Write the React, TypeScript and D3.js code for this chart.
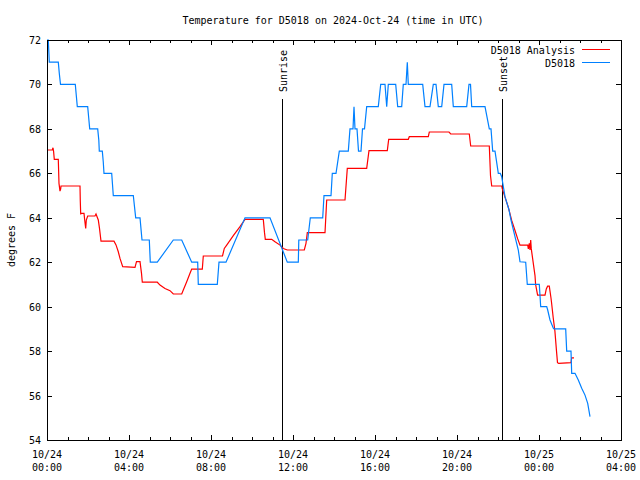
import React from "react";
import * as d3 from "d3";

// Decimal hours since 2024-10-24 00:00 UTC
const obsHours = [
  0.0, 0.063, 0.088, 0.112, 0.551, 0.6, 0.659, 1.38, 1.429, 1.478, 1.985, 2.034, 2.083, 2.473, 2.527, 2.551,
  2.698, 2.746, 2.78, 3.156, 3.195, 3.234, 4.21, 4.268, 4.327, 4.537, 4.585, 4.634, 4.99, 5.039, 5.38, 6.161,
  6.571, 7.059, 7.351, 7.38, 8.307, 8.39, 8.732, 9.659, 10.878, 11.722, 12.259, 12.283, 12.717, 12.844, 13.449, 13.512,
  13.854, 13.917, 14.098, 14.259, 14.698, 14.78, 14.927, 14.976, 15.024, 15.122, 15.195, 15.317, 15.39, 15.488, 15.595, 16.161,
  16.278, 16.488, 16.571, 16.649, 17.01, 17.107, 17.302, 17.38, 17.512, 17.576, 17.624, 18.327, 18.439, 18.683, 18.844, 18.976,
  19.088, 19.254, 19.366, 19.741, 19.82, 20.473, 20.585, 20.659, 20.717, 21.366, 21.576, 21.659, 21.741, 21.854, 22.015, 22.112,
  22.18, 22.341, 22.537, 22.634, 22.829, 22.99, 23.073, 23.351, 23.429, 24.015, 24.083, 24.376, 24.424, 24.537, 24.698, 24.732,
  25.302, 25.351, 25.561, 25.595, 25.756, 25.917, 26.083, 26.244, 26.376, 26.488,
];
const obsTemps = [
  72, 72, 71.5, 71, 71, 70.5, 70, 70, 69.5, 69, 69, 68.5, 68, 68, 67.5, 67,
  67, 66.5, 66, 66, 65.5, 65, 65, 64.5, 64, 64, 63.5, 63, 63, 62, 62, 63,
  63, 62, 62, 61, 61, 62, 62, 64, 64, 62, 62, 63, 63, 64, 64, 65,
  65, 66, 66, 67, 67, 68, 68, 69, 68, 68, 67, 67, 68, 68, 69, 69,
  70, 70, 69, 70, 70, 69, 69, 70, 70, 71, 70, 70, 69, 69, 70, 70,
  69, 69, 70, 70, 69, 69, 70, 70, 69, 69, 68, 68, 67, 67, 66, 66,
  65.85, 64.95, 64.35, 63.9, 63.15, 62.55, 62.02, 62, 61, 61, 60, 60, 59.85, 59.4, 59.03, 59,
  59, 58, 58, 57, 57, 56.7, 56.33, 56.02, 55.65, 55.05,
];

const anaHours = [
  0.0, 0.259, 0.293, 0.32, 0.356, 0.551, 0.585, 0.634, 0.668, 0.683, 1.61, 1.624, 1.644, 1.659, 1.805, 1.839,
  1.888, 1.917, 1.985, 2.341, 2.39, 2.502, 2.561, 2.634, 3.268, 3.366, 3.478, 3.561, 3.693, 4.293, 4.366, 4.537,
  4.61, 4.649, 5.38, 5.512, 5.756, 6.0, 6.161, 6.571, 6.649, 6.815, 6.976, 7.059, 7.576, 7.624, 8.561, 8.649,
  8.766, 9.088, 9.415, 9.659, 10.551, 10.61, 10.649, 10.961, 11.122, 11.366, 11.527, 11.722, 12.551, 12.634, 12.698, 13.561,
  13.644, 14.537, 14.649, 15.595, 15.707, 16.6, 16.668, 17.624, 17.673, 18.6, 18.649, 19.61, 19.693, 20.6, 20.668, 21.576,
  21.634, 21.693, 22.18, 22.21, 22.341, 22.502, 22.668, 22.829, 22.961, 23.073, 23.449, 23.48, 23.527, 23.561, 23.595, 23.624,
  23.805, 23.834, 23.932, 24.293, 24.356, 24.42, 24.502, 24.583, 24.61, 24.693, 24.776, 24.854, 24.902, 24.961, 25.561, 25.595,
  25.707,
];
const anaTemps = [
  67.05, 67.05, 67.15, 67.0, 66.63, 66.63, 65.55, 65.2, 65.3, 65.43, 65.43, 64.75, 64.15, 64.2, 64.2, 63.9,
  63.52, 63.9, 64.08, 64.08, 64.17, 63.9, 63.52, 62.95, 62.95, 62.78, 62.47, 62.17, 61.8, 61.77, 62.03, 62.03,
  61.5, 61.1, 61.1, 60.97, 60.82, 60.72, 60.57, 60.57, 60.75, 61.12, 61.5, 61.69, 61.69, 62.28, 62.28, 62.62,
  62.77, 63.2, 63.6, 63.93, 63.93, 63.33, 63.03, 63.03, 62.92, 62.77, 62.62, 62.55, 62.55, 62.85, 63.33, 63.33,
  64.8, 64.8, 66.22, 66.22, 67.02, 67.02, 67.53, 67.53, 67.65, 67.65, 67.86, 67.86, 67.77, 67.77, 67.23, 67.23,
  65.9, 65.43, 65.43, 65.3, 64.93, 64.48, 63.88, 63.43, 63.05, 62.77, 62.77, 62.6, 62.85, 62.55, 63.0, 62.6,
  61.4, 61.0, 60.52, 60.52, 60.8, 60.92, 60.92, 60.4, 60.2, 59.5, 58.9, 58.0, 57.48, 57.45, 57.48, 57.7,
  57.7,
];

const yTicks = [54, 56, 58, 60, 62, 64, 66, 68, 70, 72];
const xMajorLabels = [
  ["10/24", "00:00"], ["10/24", "04:00"], ["10/24", "08:00"], ["10/24", "12:00"],
  ["10/24", "16:00"], ["10/24", "20:00"], ["10/25", "00:00"], ["10/25", "04:00"],
];
const sunEvents = [
  { label: "Sunrise", hour: 11.463 },
  { label: "Sunset", hour: 22.195 },
];
const seriesNames = ["D5018 Analysis", "D5018"];
const seriesColors = ["#ff0000", "#0080ff"];
const title = "Temperature for D5018 on 2024-Oct-24 (time in UTC)";
const yLabel = "degrees F";

const start = Date.UTC(2024, 9, 24, 0, 0);
const toDate = (h: number) => new Date(start + h * 3600 * 1000);

export default function App() {
  const W = 640, H = 480;
  const L = 47, R = 621, T = 40, B = 440;
  const x = d3.scaleUtc().domain([toDate(0), toDate(28)]).range([L, R]);
  const y = d3.scaleLinear().domain([54, 72]).range([B, T]);
  const font = "'DejaVu Sans Mono', monospace";
  const fs = 10;

  const line = d3
    .line<[number, number]>()
    .x((d) => x(toDate(d[0])))
    .y((d) => y(d[1]));

  const anaData: [number, number][] = anaHours.map((h, i) => [h, anaTemps[i]]);
  const obsData: [number, number][] = obsHours.map((h, i) => [h, obsTemps[i]]);

  const minorHours = d3.range(0, 29, 1);
  const majorHours = d3.range(0, 29, 4);

  return (
    <svg width={W} height={H} style={{ position: "absolute", left: 0, top: 0, background: "#fff" }} fontFamily={font} fontSize={fs}>
      <rect x={0} y={0} width={W} height={H} fill="#fff" />
      <text x={333} y={24} textAnchor="middle">{title}</text>
      <text transform={`translate(15,240) rotate(-90)`} textAnchor="middle">{yLabel}</text>

      <g shapeRendering="crispEdges" stroke="#000" strokeWidth={1}>
        {yTicks.map((t) => (
          <g key={"y" + t}>
            <line x1={L} x2={L + 5} y1={Math.round(y(t)) + 0.5} y2={Math.round(y(t)) + 0.5} />
            <line x1={R} x2={R - 5} y1={Math.round(y(t)) + 0.5} y2={Math.round(y(t)) + 0.5} />
          </g>
        ))}
        {minorHours.map((h) => {
          const major = h % 4 === 0;
          const len = major ? 5 : 3;
          const px = Math.round(x(toDate(h))) + 0.5;
          return (
            <g key={"x" + h}>
              <line x1={px} x2={px} y1={B} y2={B - len} />
              <line x1={px} x2={px} y1={T} y2={T + len} />
            </g>
          );
        })}
      </g>

      {yTicks.map((t) => (
        <text key={"yl" + t} x={41} y={y(t) + 4} textAnchor="end">{t}</text>
      ))}
      {majorHours.map((h, i) => (
        <g key={"xl" + h}>
          <text x={x(toDate(h))} y={458} textAnchor="middle">{xMajorLabels[i][0]}</text>
          <text x={x(toDate(h))} y={471} textAnchor="middle">{xMajorLabels[i][1]}</text>
        </g>
      ))}

      {sunEvents.map((s) => {
        const px = Math.round(x(toDate(s.hour))) + 0.5;
        return (
          <g key={s.label}>
            <line x1={px} x2={px} y1={99} y2={B} stroke="#000" strokeWidth={1} shapeRendering="crispEdges" />
            <text transform={`translate(${px + 4.5},92) rotate(-90)`} textAnchor="start">{s.label}</text>
          </g>
        );
      })}

      <path d={line(anaData) || ""} fill="none" stroke={seriesColors[0]} strokeWidth={1.2} />
      <path d={line(obsData) || ""} fill="none" stroke={seriesColors[1]} strokeWidth={1.2} />

      {seriesNames.map((n, i) => (
        <g key={n}>
          <text x={575} y={54 + i * 13} textAnchor="end">{n}</text>
          <line x1={582} x2={610} y1={49.5 + i * 13} y2={49.5 + i * 13} stroke={seriesColors[i]} strokeWidth={1} shapeRendering="crispEdges" />
        </g>
      ))}

      <rect x={L + 0.5} y={T + 0.5} width={R - L} height={B - T} fill="none" stroke="#000" strokeWidth={1} shapeRendering="crispEdges" />
    </svg>
  );
}
